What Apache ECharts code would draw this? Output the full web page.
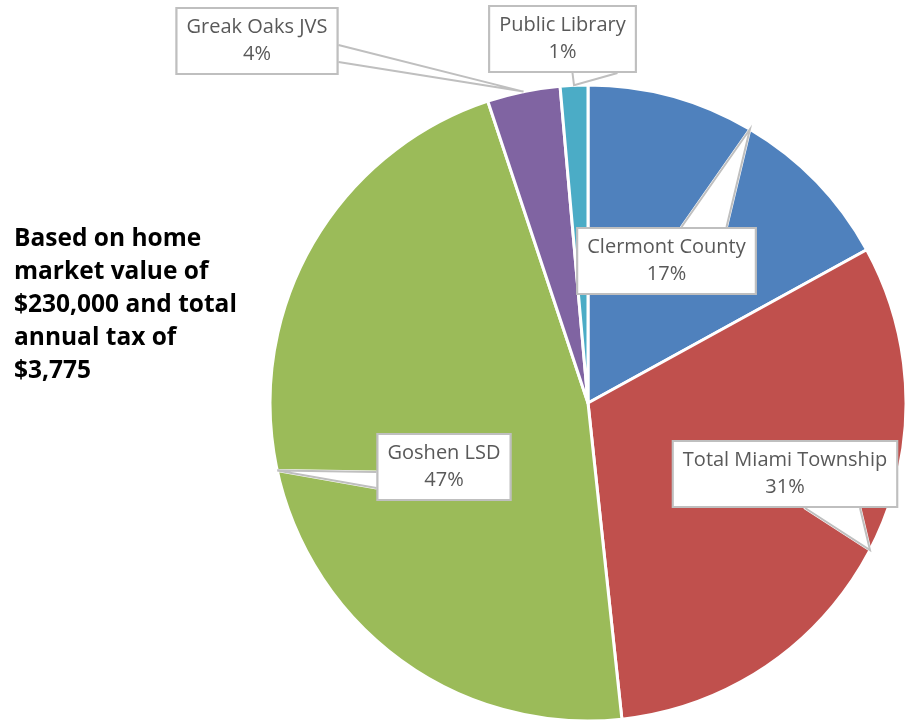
<!DOCTYPE html>
<html>
<head>
<meta charset="utf-8">
<script src="https://cdn.jsdelivr.net/npm/echarts@6/dist/echarts.min.js"></script>
<style>html,body{margin:0;padding:0;background:#fff}#c{width:905px;height:722px}</style>
</head>
<body>
<div id="c"></div>
<script>
const categories = ['Clermont County', 'Total Miami Township', 'Goshen LSD', 'Greak Oaks JVS', 'Public Library'];
const shares = [17.0, 31.3, 46.6, 3.7, 1.4];
const colors = ['#4F81BD', '#C0504D', '#9BBB59', '#8064A2', '#4BACC6'];
const noteLines = ['Based on home', 'market value of', '$230,000 and total', 'annual tax of', '$3,775'];

// label box centres and callout base (side, from, to offsets relative to centre)
const labelPlace = [
  { x: 666.5, y: 261, side: 'top', a: 15, b: 60 },
  { x: 785, y: 474, side: 'bottom', a: 20, b: 75 },
  { x: 444, y: 467, side: 'left', a: 5, b: 21 },
  { x: 257, y: 41, side: 'right', a: 4, b: 21 },
  { x: 562.5, y: 39, side: 'bottom', a: 10, b: 55 }
];

const total = shares.reduce((s, v) => s + v, 0);
const pieBase = {
  type: 'pie',
  center: [588, 403],
  radius: 318,
  startAngle: 90,
  clockwise: true,
  avoidLabelOverlap: false,
  silent: true
};

function basePoint(L, w, h, t) {
  const o = L.a + (L.b - L.a) * t;
  if (L.side === 'top') return [L.x + o, L.y - h / 2];
  if (L.side === 'bottom') return [L.x + o, L.y + h / 2];
  if (L.side === 'left') return [L.x - w / 2, L.y + o];
  return [L.x + w / 2, L.y + o];
}

function makeLayout(fan) {
  return function (params) {
    const L = labelPlace[params.dataIndex];
    const w = params.labelRect.width, h = params.labelRect.height;
    const tip = params.labelLinePoints ? params.labelLinePoints[0] : [L.x, L.y];
    const t = [tip[0], tip[1]];
    let pts;
    if (fan) {
      pts = [basePoint(L, w, h, 0)];
      const n = Math.ceil(Math.abs(L.b - L.a) / 1.5);
      for (let k = 1; k <= n; k++) { pts.push(t); pts.push(basePoint(L, w, h, k / n)); }
    } else {
      pts = [basePoint(L, w, h, 0), t, basePoint(L, w, h, 1)];
    }
    return { x: L.x, y: L.y, align: 'center', verticalAlign: 'middle', labelLinePoints: pts };
  };
}

const labelStyle = {
  show: true,
  position: 'outside',
  formatter: p => p.name + '\n' + Math.round(p.value / total * 100) + '%',
  fontFamily: 'Open Sans', fontSize: 20, lineHeight: 27, color: '#595959',
  align: 'center',
  backgroundColor: '#fff', borderColor: '#BFBFBF', borderWidth: 2,
  padding: [5, 9]
};

const chart = echarts.init(document.getElementById('c'));
chart.setOption({
  animation: false,
  title: {
    text: noteLines.join('\n'),
    left: 14, top: 223, padding: 0,
    textStyle: { fontFamily: 'Open Sans', fontWeight: 'bold', fontSize: 24.5, lineHeight: 33, color: '#000' }
  },
  series: [Object.assign({}, pieBase, {
    z: 2,
    itemStyle: { borderColor: '#fff', borderWidth: 3 },
    data: categories.map((n, i) => ({ name: n, value: shares[i], itemStyle: { color: colors[i] } })),
    label: { show: false },
    labelLine: { show: false }
  }), Object.assign({}, pieBase, {
    z: 5,
    itemStyle: { color: 'rgba(0,0,0,0)', borderWidth: 0 },
    data: categories.map((n, i) => ({ name: n, value: shares[i] })),
    label: labelStyle,
    labelLine: { show: true, length: 10, length2: 10, lineStyle: { color: '#fff', width: 3, join: 'round', cap: 'round' } },
    labelLayout: makeLayout(true)
  }), Object.assign({}, pieBase, {
    z: 6,
    itemStyle: { color: 'rgba(0,0,0,0)', borderWidth: 0 },
    data: categories.map((n, i) => ({ name: n, value: shares[i] })),
    label: labelStyle,
    labelLine: { show: true, length: 10, length2: 10, lineStyle: { color: '#BFBFBF', width: 2 } },
    labelLayout: makeLayout(false)
  })]
});
</script>
</body>
</html>
